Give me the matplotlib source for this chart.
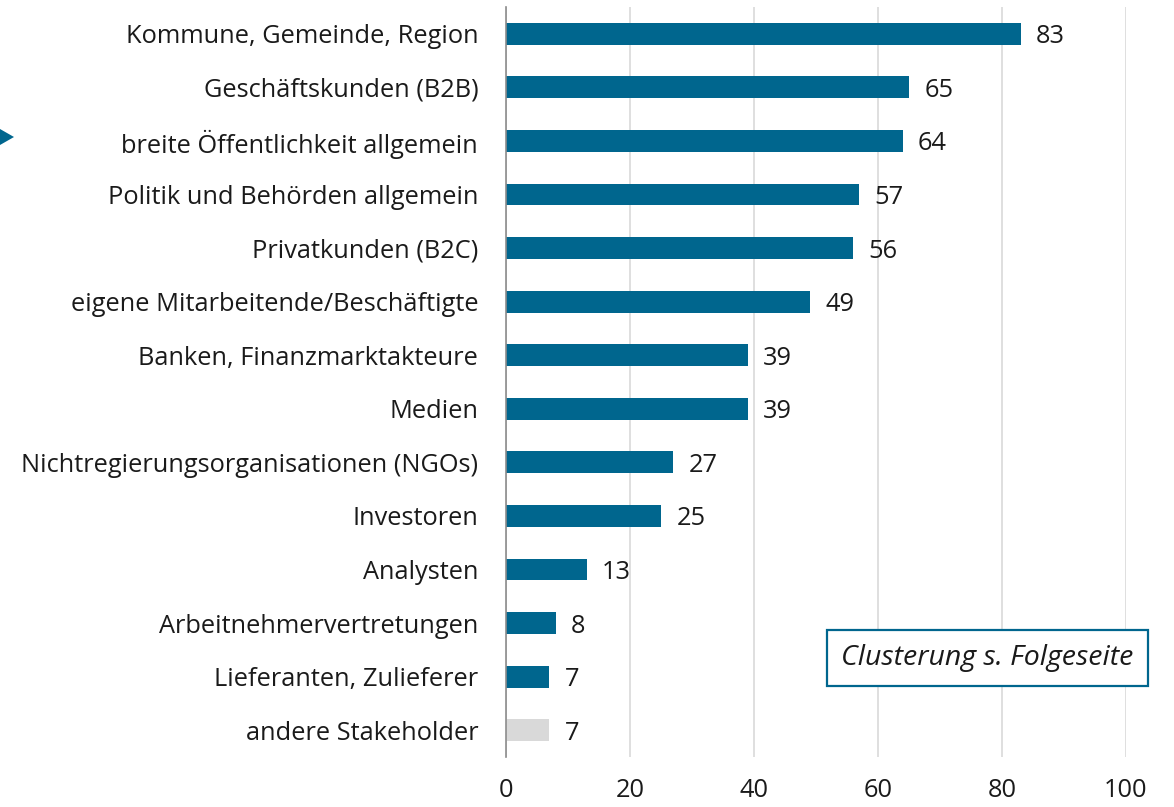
import matplotlib.pyplot as plt
from matplotlib.patches import Polygon

plt.rcParams["font.family"] = ["Open Sans", "DejaVu Sans"]

CATEGORIES = [
    "Kommune, Gemeinde, Region",
    "Geschäftskunden (B2B)",
    "breite Öffentlichkeit allgemein",
    "Politik und Behörden allgemein",
    "Privatkunden (B2C)",
    "eigene Mitarbeitende/Beschäftigte",
    "Banken, Finanzmarktakteure",
    "Medien",
    "Nichtregierungsorganisationen (NGOs)",
    "Investoren",
    "Analysten",
    "Arbeitnehmervertretungen",
    "Lieferanten, Zulieferer",
    "andere Stakeholder",
]
VALUES = [83, 65, 64, 57, 56, 49, 39, 39, 27, 25, 13, 8, 7, 7]
XTICKS = [0, 20, 40, 60, 80, 100]

BLUE = "#00668e"
GREY = "#d9d9d9"
TEXT = "#1a1a1a"
FS = 18.3

W, H = 1174, 807
fig = plt.figure(figsize=(W / 100, H / 100), dpi=100)
ax = fig.add_axes([506 / W, 1 - 757 / H, 620 / W, 750 / H])

colors = [BLUE] * (len(VALUES) - 1) + [GREY]
ypos = list(range(len(CATEGORIES)))
ax.barh(ypos, VALUES, height=0.41, color=colors, zorder=3)

for y, v in zip(ypos, VALUES):
    ax.annotate(str(v), (v, y), xytext=(11, 0), textcoords="offset points",
                va="center_baseline", ha="left", fontsize=FS, color=TEXT)

ax.set_xlim(0, 100)
ax.set_ylim(len(CATEGORIES) - 0.5, -0.5)
ax.set_yticks(ypos)
ax.set_yticklabels(CATEGORIES, fontsize=FS, color=TEXT, va="center_baseline")
ax.set_xticks(XTICKS)
ax.set_xticklabels([str(t) for t in XTICKS], fontsize=FS, color=TEXT)
ax.tick_params(axis="y", length=0, pad=20)
ax.tick_params(axis="x", length=0, pad=15)

ax.grid(axis="x", color="#d9d9d9", linewidth=1.2, zorder=0)
for side in ["top", "right", "bottom"]:
    ax.spines[side].set_visible(False)
ax.spines["left"].set_color("#8c8c8c")
ax.spines["left"].set_linewidth(1.2)
ax.spines["left"].set_zorder(4)

ax.text(77.6, 11.65, "Clusterung s. Folgeseite", ha="center", va="center",
        fontsize=20.5, style="italic", color=TEXT, zorder=5,
        bbox=dict(boxstyle="square,pad=0.5", facecolor="white",
                  edgecolor=BLUE, linewidth=1.6))

# arrow marker at the left edge pointing at the highlighted row
yc = 1 - 137 / H
tri = Polygon([(0, yc + 8 / H), (0, yc - 8 / H), (14 / W, yc)], closed=True,
              facecolor=BLUE, edgecolor="none", transform=fig.transFigure)
fig.add_artist(tri)

fig.savefig("out.png", dpi=100)
